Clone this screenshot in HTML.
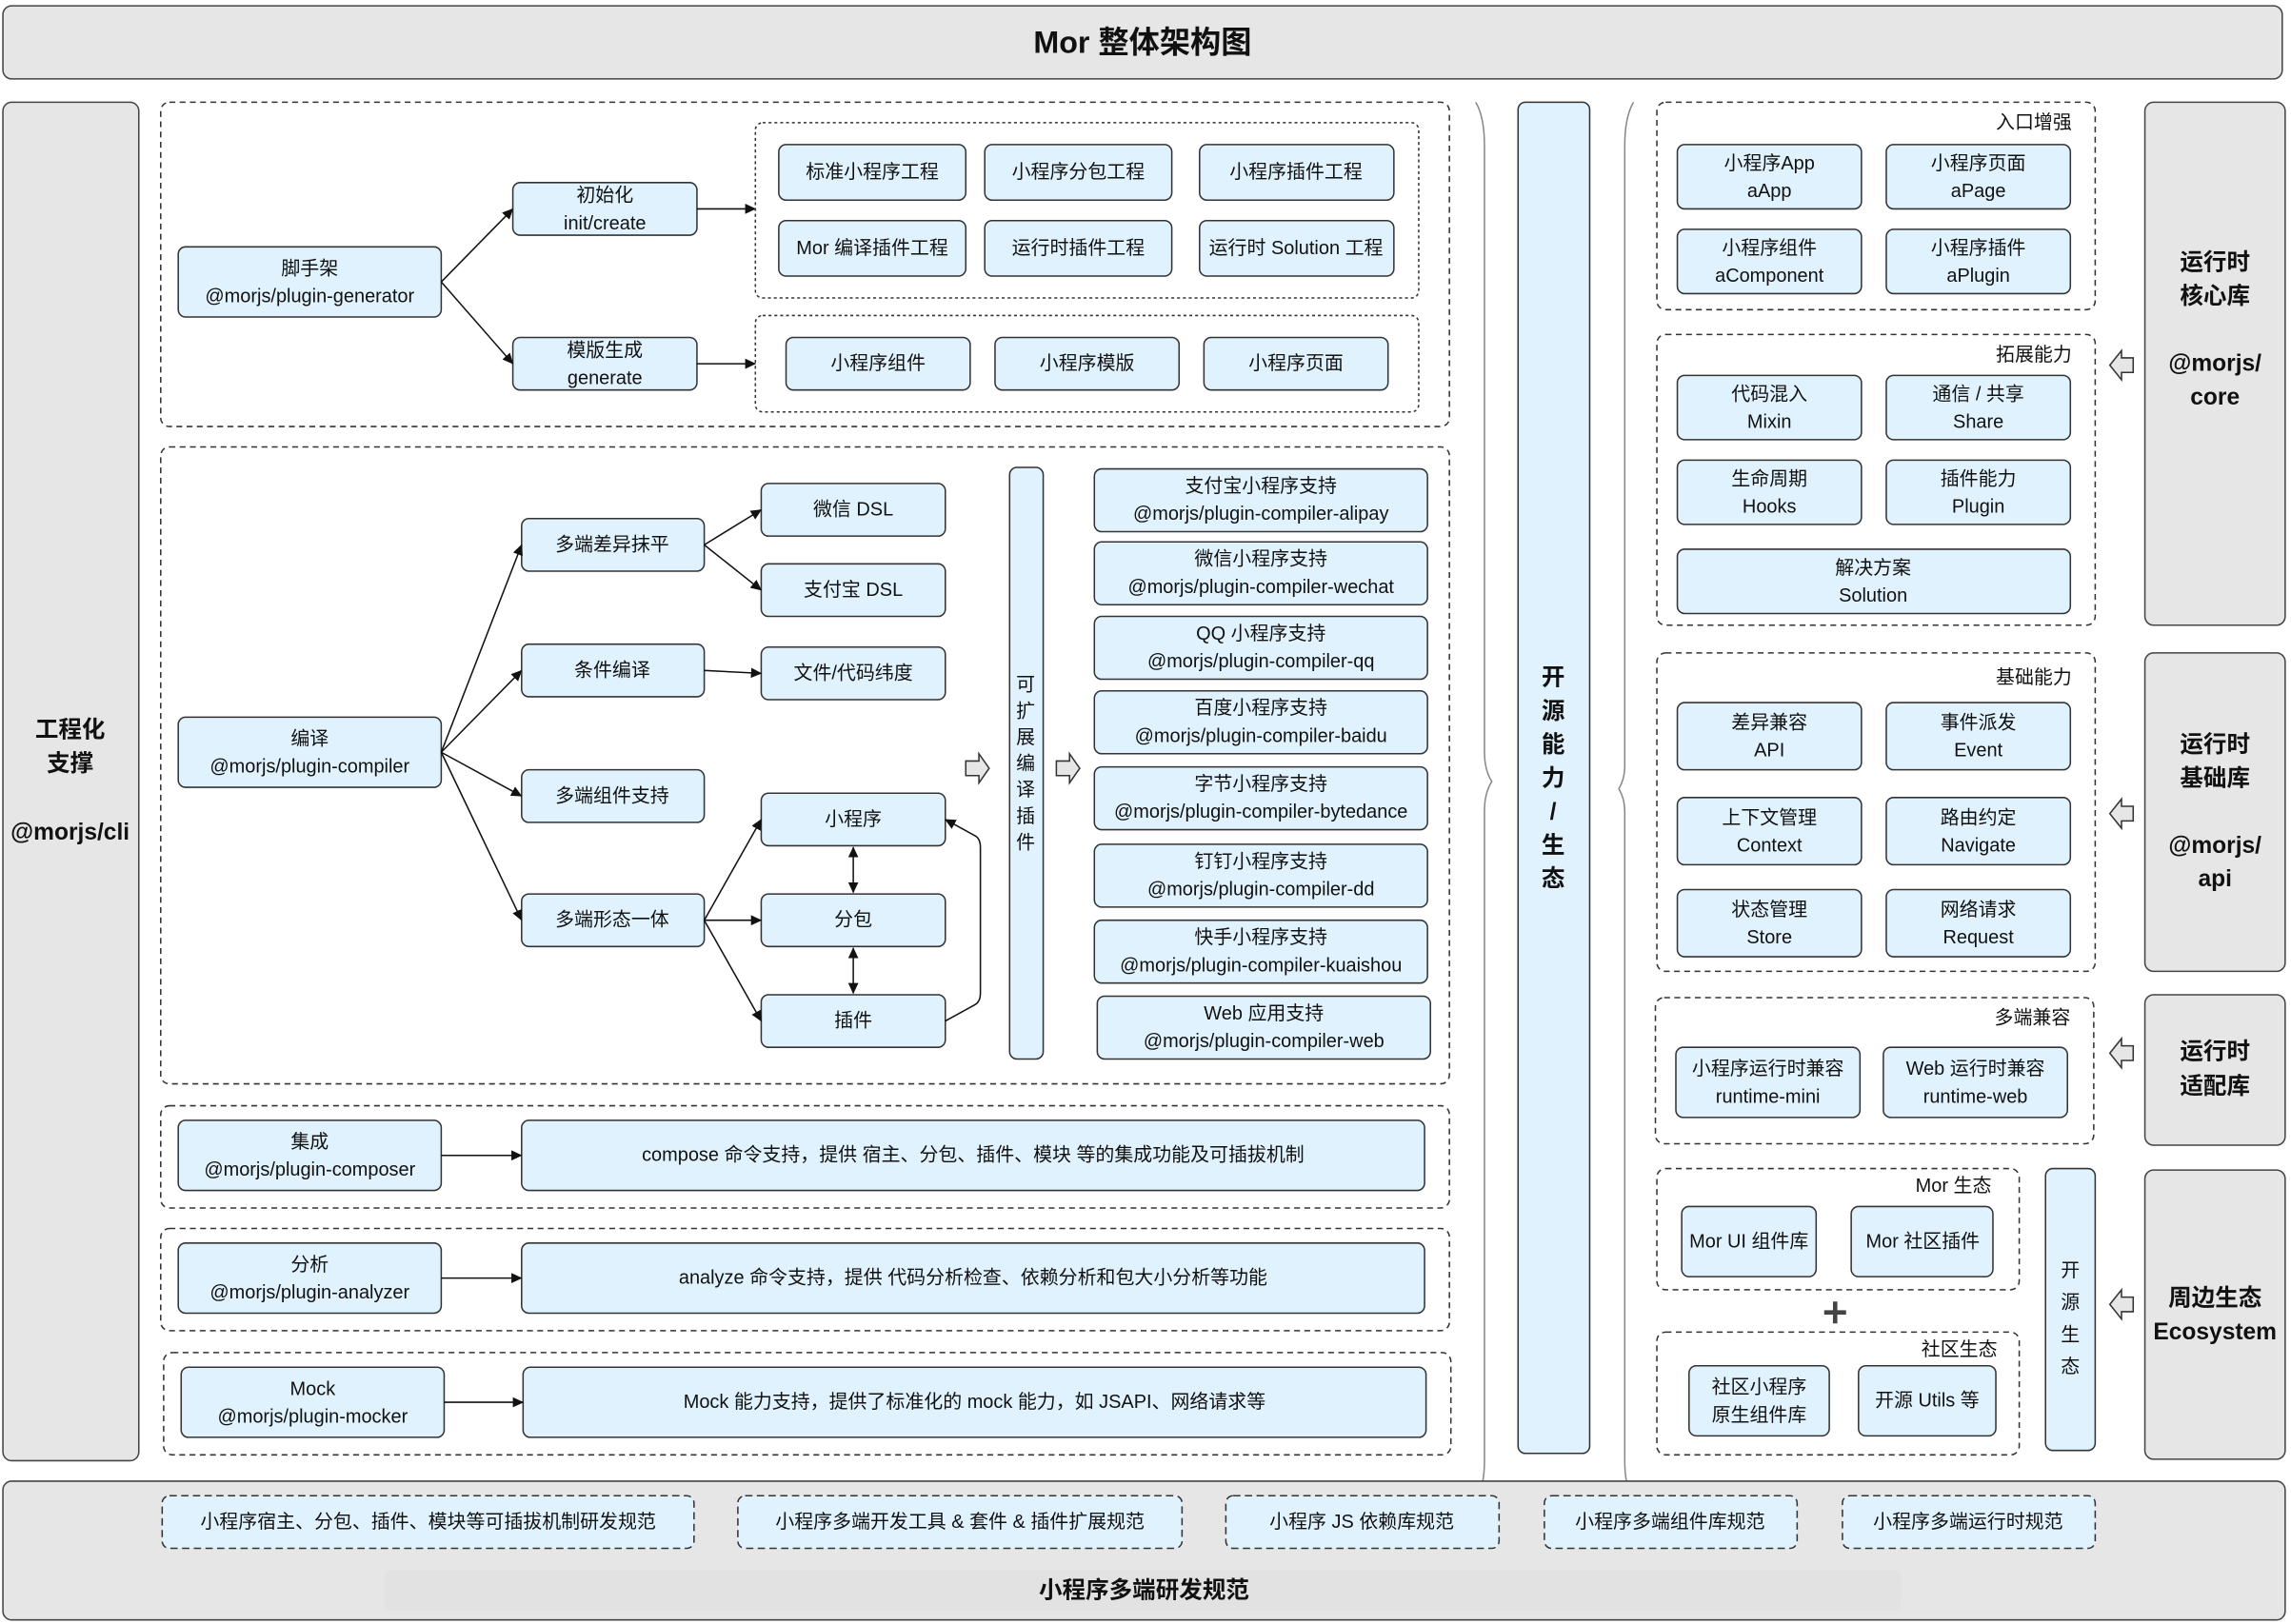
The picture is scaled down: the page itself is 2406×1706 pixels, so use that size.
<!DOCTYPE html>
<html><head><meta charset="utf-8"><style>
html,body{margin:0;padding:0;background:#fff;}
svg{display:block;}
text{font-family:"Liberation Sans","Noto Sans CJK SC",sans-serif;font-size:13px;fill:#111;text-anchor:middle;dominant-baseline:central;}
.b{fill:#e0f2fd;stroke:#333;stroke-width:1;}
.g{fill:#e6e6e6;stroke:#444;stroke-width:1;}
.d{fill:none;stroke:#333;stroke-width:1;stroke-dasharray:4 3;}
.dt{fill:none;stroke:#333;stroke-width:1;stroke-dasharray:2 2;}
.l{fill:none;stroke:#111;stroke-width:1;}
.bold{font-weight:bold;font-size:16px;}
.ha{fill:#e6e6e6;stroke:#333;stroke-width:1;}
</style></head><body>
<svg width="2406" height="1706" viewBox="0 0 1568 1111.8" xmlns="http://www.w3.org/2000/svg">
<defs>
<marker id="a" markerWidth="8" markerHeight="8" refX="7" refY="4" orient="auto" markerUnits="userSpaceOnUse"><path d="M0,0.5 L7.5,4 L0,7.5 z" fill="#111"/></marker>
<marker id="s" markerWidth="8" markerHeight="8" refX="1" refY="4" orient="auto" markerUnits="userSpaceOnUse"><path d="M8,0.5 L0.5,4 L8,7.5 z" fill="#111"/></marker>
</defs>
<!-- Title -->
<rect class="g" x="2" y="4" width="1560" height="50" rx="6"/>
<text x="782" y="29" style="font-size:21px;font-weight:bold">Mor 整体架构图</text>

<!-- left column -->
<rect class="g" x="2" y="70" width="93" height="930" rx="6"/>
<text class="bold" x="48" y="500">工程化</text>
<text class="bold" x="48" y="523">支撑</text>
<text class="bold" x="48" y="570">@morjs/cli</text>

<!-- Section 1 -->
<rect class="d" x="110" y="70" width="882" height="222" rx="6"/>
<rect class="b" x="122" y="169" width="180" height="48" rx="5"/>
<text x="212" y="184">脚手架</text><text x="212" y="203">@morjs/plugin-generator</text>
<rect class="b" x="351" y="125" width="126" height="36" rx="5"/>
<text x="414" y="134">初始化</text><text x="414" y="153">init/create</text>
<rect class="b" x="351" y="231" width="126" height="36" rx="5"/>
<text x="414" y="240">模版生成</text><text x="414" y="259">generate</text>
<path class="l" d="M302,193 L351,143" marker-end="url(#a)"/>
<path class="l" d="M302,193 L351,249" marker-end="url(#a)"/>
<path class="l" d="M477,143 L517,143" marker-end="url(#a)"/>
<path class="l" d="M477,249 L517,249" marker-end="url(#a)"/>
<rect class="dt" x="517" y="84" width="454" height="120" rx="5"/>
<rect class="b" x="533" y="99" width="128" height="38" rx="5"/><text x="597" y="118">标准小程序工程</text>
<rect class="b" x="674" y="99" width="128" height="38" rx="5"/><text x="738" y="118">小程序分包工程</text>
<rect class="b" x="821" y="99" width="133" height="38" rx="5"/><text x="887" y="118">小程序插件工程</text>
<rect class="b" x="533" y="151" width="128" height="38" rx="5"/><text x="597" y="170">Mor 编译插件工程</text>
<rect class="b" x="674" y="151" width="128" height="38" rx="5"/><text x="738" y="170">运行时插件工程</text>
<rect class="b" x="821" y="151" width="133" height="38" rx="5"/><text x="887" y="170">运行时 Solution 工程</text>
<rect class="dt" x="517" y="216" width="454" height="66" rx="5"/>
<rect class="b" x="538" y="231" width="126" height="36" rx="5"/><text x="601" y="249">小程序组件</text>
<rect class="b" x="681" y="231" width="126" height="36" rx="5"/><text x="744" y="249">小程序模版</text>
<rect class="b" x="824" y="231" width="126" height="36" rx="5"/><text x="887" y="249">小程序页面</text>

<!-- Section 2 -->
<rect class="d" x="110" y="306" width="882" height="436" rx="6"/>
<rect class="b" x="122" y="491" width="180" height="48" rx="5"/>
<text x="212" y="506">编译</text><text x="212" y="525">@morjs/plugin-compiler</text>
<rect class="b" x="357" y="355" width="125" height="36" rx="5"/><text x="419" y="373">多端差异抹平</text>
<rect class="b" x="357" y="441" width="125" height="36" rx="5"/><text x="419" y="459">条件编译</text>
<rect class="b" x="357" y="527" width="125" height="36" rx="5"/><text x="419" y="545">多端组件支持</text>
<rect class="b" x="357" y="612" width="125" height="36" rx="5"/><text x="419" y="630">多端形态一体</text>
<path class="l" d="M302,515 L357,373" marker-end="url(#a)"/>
<path class="l" d="M302,515 L357,459" marker-end="url(#a)"/>
<path class="l" d="M302,515 L357,545" marker-end="url(#a)"/>
<path class="l" d="M302,515 L357,630" marker-end="url(#a)"/>
<rect class="b" x="521" y="331" width="126" height="36" rx="5"/><text x="584" y="349">微信 DSL</text>
<rect class="b" x="521" y="386" width="126" height="36" rx="5"/><text x="584" y="404">支付宝 DSL</text>
<rect class="b" x="521" y="443" width="126" height="36" rx="5"/><text x="584" y="461">文件/代码纬度</text>
<rect class="b" x="521" y="543" width="126" height="36" rx="5"/><text x="584" y="561">小程序</text>
<rect class="b" x="521" y="612" width="126" height="36" rx="5"/><text x="584" y="630">分包</text>
<rect class="b" x="521" y="681" width="126" height="36" rx="5"/><text x="584" y="699">插件</text>
<path class="l" d="M482,373 L521,349" marker-end="url(#a)"/>
<path class="l" d="M482,373 L521,404" marker-end="url(#a)"/>
<path class="l" d="M482,459 L521,461" marker-end="url(#a)"/>
<path class="l" d="M482,630 L521,561" marker-end="url(#a)"/>
<path class="l" d="M482,630 L521,630" marker-end="url(#a)"/>
<path class="l" d="M482,630 L521,699" marker-end="url(#a)"/>
<path class="l" d="M584,580 L584,611" marker-start="url(#s)" marker-end="url(#a)"/>
<path class="l" d="M584,649 L584,680" marker-start="url(#s)" marker-end="url(#a)"/>
<path class="l" d="M647,699 L667,688 Q671,686 671,680 L671,580 Q671,574 667,572 L647,561" marker-end="url(#a)"/>
<rect class="b" x="691" y="320" width="23" height="405" rx="5"/>
<text x="702" y="469">可</text><text x="702" y="487">扩</text><text x="702" y="505">展</text><text x="702" y="523">编</text><text x="702" y="541">译</text><text x="702" y="559">插</text><text x="702" y="577">件</text>
<path class="ha" d="M661,521 L670,521 L670,516 L677,526 L670,536 L670,531 L661,531 z"/>
<path class="ha" d="M723,521 L732,521 L732,516 L739,526 L732,536 L732,531 L723,531 z"/>
<rect class="b" x="749" y="321" width="228" height="43" rx="5"/><text x="863" y="333">支付宝小程序支持</text><text x="863" y="352">@morjs/plugin-compiler-alipay</text>
<rect class="b" x="749" y="371" width="228" height="43" rx="5"/><text x="863" y="383">微信小程序支持</text><text x="863" y="402">@morjs/plugin-compiler-wechat</text>
<rect class="b" x="749" y="422" width="228" height="43" rx="5"/><text x="863" y="434">QQ 小程序支持</text><text x="863" y="453">@morjs/plugin-compiler-qq</text>
<rect class="b" x="749" y="473" width="228" height="43" rx="5"/><text x="863" y="485">百度小程序支持</text><text x="863" y="504">@morjs/plugin-compiler-baidu</text>
<rect class="b" x="749" y="525" width="228" height="43" rx="5"/><text x="863" y="537">字节小程序支持</text><text x="863" y="556">@morjs/plugin-compiler-bytedance</text>
<rect class="b" x="749" y="578" width="228" height="43" rx="5"/><text x="863" y="590">钉钉小程序支持</text><text x="863" y="609">@morjs/plugin-compiler-dd</text>
<rect class="b" x="749" y="630" width="228" height="43" rx="5"/><text x="863" y="642">快手小程序支持</text><text x="863" y="661">@morjs/plugin-compiler-kuaishou</text>
<rect class="b" x="751" y="682" width="228" height="43" rx="5"/><text x="865" y="694">Web 应用支持</text><text x="865" y="713">@morjs/plugin-compiler-web</text>

<!-- Sections 3-5 -->
<rect class="d" x="110" y="757" width="882" height="70" rx="6"/>
<rect class="b" x="122" y="767" width="180" height="48" rx="5"/><text x="212" y="782">集成</text><text x="212" y="801">@morjs/plugin-composer</text>
<rect class="b" x="357" y="767" width="618" height="48" rx="5"/><text x="666" y="791">compose 命令支持，提供 宿主、分包、插件、模块 等的集成功能及可插拔机制</text>
<path class="l" d="M302,791 L357,791" marker-end="url(#a)"/>
<rect class="d" x="110" y="841" width="882" height="70" rx="6"/>
<rect class="b" x="122" y="851" width="180" height="48" rx="5"/><text x="212" y="866">分析</text><text x="212" y="885">@morjs/plugin-analyzer</text>
<rect class="b" x="357" y="851" width="618" height="48" rx="5"/><text x="666" y="875">analyze 命令支持，提供 代码分析检查、依赖分析和包大小分析等功能</text>
<path class="l" d="M302,875 L357,875" marker-end="url(#a)"/>
<rect class="d" x="112" y="926" width="881" height="70" rx="6"/>
<rect class="b" x="124" y="936" width="180" height="48" rx="5"/><text x="214" y="951">Mock</text><text x="214" y="970">@morjs/plugin-mocker</text>
<rect class="b" x="358" y="936" width="618" height="48" rx="5"/><text x="667" y="960">Mock 能力支持，提供了标准化的 mock 能力，如 JSAPI、网络请求等</text>
<path class="l" d="M304,960 L358,960" marker-end="url(#a)"/>

<!-- braces -->
<path fill="none" stroke="#888" stroke-width="1" d="M1010,70 Q1016,80 1016,100 L1016,515 Q1016,527 1021,535 Q1016,543 1016,555 L1016,1000 Q1016,1018 1010,1026"/>
<path fill="none" stroke="#888" stroke-width="1" d="M1118,70 Q1112,80 1112,100 L1112,525 Q1112,533 1108,540 Q1112,547 1112,555 L1112,1000 Q1112,1018 1118,1026"/>
<rect class="b" x="1039" y="70" width="49" height="925" rx="5"/>
<text class="bold" x="1063" y="464">开</text><text class="bold" x="1063" y="487">源</text><text class="bold" x="1063" y="510">能</text><text class="bold" x="1063" y="533">力</text><text class="bold" x="1063" y="556">/</text><text class="bold" x="1063" y="579">生</text><text class="bold" x="1063" y="602">态</text>

<!-- right: 入口增强 -->
<rect class="d" x="1134" y="70" width="300" height="142" rx="6"/>
<text x="1392" y="84" style="text-anchor:middle">入口增强</text>
<rect class="b" x="1148" y="99" width="126" height="44" rx="5"/><text x="1211" y="112">小程序App</text><text x="1211" y="131">aApp</text>
<rect class="b" x="1291" y="99" width="126" height="44" rx="5"/><text x="1354" y="112">小程序页面</text><text x="1354" y="131">aPage</text>
<rect class="b" x="1148" y="157" width="126" height="44" rx="5"/><text x="1211" y="170">小程序组件</text><text x="1211" y="189">aComponent</text>
<rect class="b" x="1291" y="157" width="126" height="44" rx="5"/><text x="1354" y="170">小程序插件</text><text x="1354" y="189">aPlugin</text>
<!-- 拓展能力 -->
<rect class="d" x="1134" y="229" width="300" height="199" rx="6"/>
<text x="1392" y="243">拓展能力</text>
<rect class="b" x="1148" y="257" width="126" height="44" rx="5"/><text x="1211" y="270">代码混入</text><text x="1211" y="289">Mixin</text>
<rect class="b" x="1291" y="257" width="126" height="44" rx="5"/><text x="1354" y="270">通信 / 共享</text><text x="1354" y="289">Share</text>
<rect class="b" x="1148" y="315" width="126" height="44" rx="5"/><text x="1211" y="328">生命周期</text><text x="1211" y="347">Hooks</text>
<rect class="b" x="1291" y="315" width="126" height="44" rx="5"/><text x="1354" y="328">插件能力</text><text x="1354" y="347">Plugin</text>
<rect class="b" x="1148" y="376" width="269" height="44" rx="5"/><text x="1282" y="389">解决方案</text><text x="1282" y="408">Solution</text>
<!-- 基础能力 -->
<rect class="d" x="1134" y="447" width="300" height="218" rx="6"/>
<text x="1392" y="464">基础能力</text>
<rect class="b" x="1148" y="481" width="126" height="46" rx="5"/><text x="1211" y="495">差异兼容</text><text x="1211" y="514">API</text>
<rect class="b" x="1291" y="481" width="126" height="46" rx="5"/><text x="1354" y="495">事件派发</text><text x="1354" y="514">Event</text>
<rect class="b" x="1148" y="546" width="126" height="46" rx="5"/><text x="1211" y="560">上下文管理</text><text x="1211" y="579">Context</text>
<rect class="b" x="1291" y="546" width="126" height="46" rx="5"/><text x="1354" y="560">路由约定</text><text x="1354" y="579">Navigate</text>
<rect class="b" x="1148" y="609" width="126" height="46" rx="5"/><text x="1211" y="623">状态管理</text><text x="1211" y="642">Store</text>
<rect class="b" x="1291" y="609" width="126" height="46" rx="5"/><text x="1354" y="623">网络请求</text><text x="1354" y="642">Request</text>
<!-- 多端兼容 -->
<rect class="d" x="1133" y="683" width="300" height="100" rx="6"/>
<text x="1391" y="697">多端兼容</text>
<rect class="b" x="1147" y="717" width="126" height="48" rx="5"/><text x="1210" y="732">小程序运行时兼容</text><text x="1210" y="751">runtime-mini</text>
<rect class="b" x="1289" y="717" width="126" height="48" rx="5"/><text x="1352" y="732">Web 运行时兼容</text><text x="1352" y="751">runtime-web</text>
<!-- Mor 生态 -->
<rect class="d" x="1134" y="800" width="248" height="83" rx="6"/>
<text x="1337" y="812">Mor 生态</text>
<rect class="b" x="1151" y="826" width="92" height="48" rx="5"/><text x="1197" y="850">Mor UI 组件库</text>
<rect class="b" x="1267" y="826" width="97" height="48" rx="5"/><text x="1316" y="850">Mor 社区插件</text>
<path d="M1256,891 L1256,906 M1248.5,898.5 L1263.5,898.5" stroke="#444" stroke-width="3"/>
<rect class="d" x="1134" y="912" width="248" height="84" rx="6"/>
<text x="1341" y="924">社区生态</text>
<rect class="b" x="1156" y="935" width="96" height="48" rx="5"/><text x="1204" y="950">社区小程序</text><text x="1204" y="969">原生组件库</text>
<rect class="b" x="1272" y="935" width="94" height="48" rx="5"/><text x="1319" y="959">开源 Utils 等</text>
<rect class="b" x="1400" y="800" width="34" height="193" rx="5"/>
<text x="1417" y="870">开</text><text x="1417" y="892">源</text><text x="1417" y="914">生</text><text x="1417" y="936">态</text>

<!-- right gray -->
<rect class="g" x="1468" y="70" width="96" height="358" rx="6"/>
<text class="bold" x="1516" y="180">运行时</text><text class="bold" x="1516" y="203">核心库</text>
<text class="bold" x="1516" y="249">@morjs/</text><text class="bold" x="1516" y="272">core</text>
<rect class="g" x="1468" y="447" width="96" height="218" rx="6"/>
<text class="bold" x="1516" y="510">运行时</text><text class="bold" x="1516" y="533">基础库</text>
<text class="bold" x="1516" y="579">@morjs/</text><text class="bold" x="1516" y="602">api</text>
<rect class="g" x="1468" y="681" width="96" height="103" rx="6"/>
<text class="bold" x="1516" y="720">运行时</text><text class="bold" x="1516" y="744">适配库</text>
<rect class="g" x="1468" y="801" width="96" height="198" rx="6"/>
<text class="bold" x="1516" y="889">周边生态</text><text class="bold" x="1516" y="912">Ecosystem</text>
<path class="ha" d="M1460,245 L1452,245 L1452,240 L1444,250 L1452,260 L1452,255 L1460,255 z"/>
<path class="ha" d="M1460,552 L1452,552 L1452,547 L1444,557 L1452,567 L1452,562 L1460,562 z"/>
<path class="ha" d="M1460,716 L1452,716 L1452,711 L1444,721 L1452,731 L1452,726 L1460,726 z"/>
<path class="ha" d="M1460,888 L1452,888 L1452,883 L1444,893 L1452,903 L1452,898 L1460,898 z"/>

<!-- bottom -->
<rect class="g" x="2" y="1014" width="1562" height="95" rx="6"/>
<rect x="263" y="1075" width="1038" height="28" rx="5" fill="#e2e2e2"/>
<rect class="b" style="stroke-dasharray:5 3" x="111" y="1024" width="364" height="36" rx="5"/><text x="293" y="1042">小程序宿主、分包、插件、模块等可插拔机制研发规范</text>
<rect class="b" style="stroke-dasharray:5 3" x="505" y="1024" width="304" height="36" rx="5"/><text x="657" y="1042">小程序多端开发工具 &amp; 套件 &amp; 插件扩展规范</text>
<rect class="b" style="stroke-dasharray:5 3" x="839" y="1024" width="187" height="36" rx="5"/><text x="932" y="1042">小程序 JS 依赖库规范</text>
<rect class="b" style="stroke-dasharray:5 3" x="1057" y="1024" width="173" height="36" rx="5"/><text x="1143" y="1042">小程序多端组件库规范</text>
<rect class="b" style="stroke-dasharray:5 3" x="1261" y="1024" width="173" height="36" rx="5"/><text x="1347" y="1042">小程序多端运行时规范</text>
<text class="bold" x="783" y="1089">小程序多端研发规范</text>
</svg>
</body></html>
